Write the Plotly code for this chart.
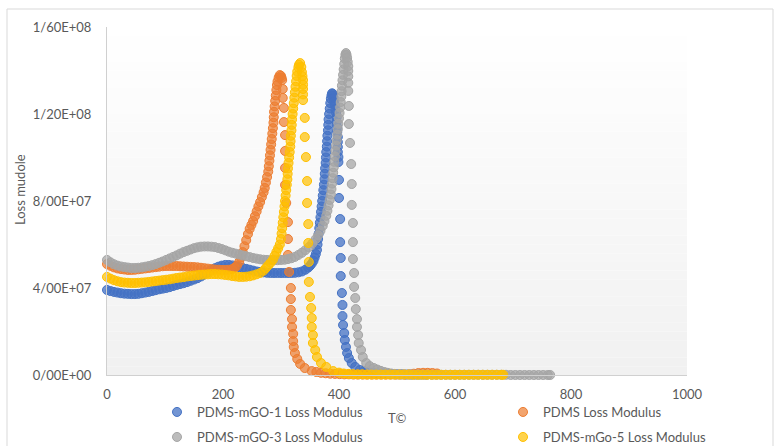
import plotly.graph_objects as go

# Loss modulus versus temperature, four PDMS samples.
# Each series: (temperature in °C, loss modulus in MPa)
PDMS_MGO1 = [
    (0, 39.1), (6, 38.6), (12, 38.2), (18, 37.9), (24, 37.6), (30, 37.4), (36, 37.3), (42, 37.2),
    (48, 37.2), (54, 37.3), (60, 37.6), (66, 37.9), (72, 38.2), (78, 38.6), (84, 39.0), (90, 39.4),
    (96, 39.7), (102, 40.0), (108, 40.4), (114, 40.9), (120, 41.4), (126, 41.8), (132, 42.2), (138, 42.7),
    (144, 43.3), (150, 43.9), (156, 44.5), (162, 45.3), (168, 46.2), (174, 47.2), (180, 48.2), (186, 49.1),
    (192, 49.8), (198, 50.3), (204, 50.6), (210, 50.6), (216, 50.4), (222, 50.0), (228, 49.6), (234, 49.2),
    (240, 48.8), (246, 48.4), (252, 48.0), (258, 47.6), (264, 47.4), (270, 47.2), (276, 47.0), (282, 46.9),
    (288, 46.9), (294, 46.9), (300, 46.9), (306, 46.9), (312, 46.9), (318, 46.9), (324, 47.0), (330, 47.2),
    (336, 47.6), (342, 48.4), (347, 49.4), (350, 50.2), (353, 51.2), (356, 52.5), (358, 54.0), (360, 55.6),
    (362, 57.5), (363, 60.0), (364, 62.5), (365, 65.0), (366, 67.5), (367, 70.0), (368, 72.5), (369, 75.0),
    (370, 77.5), (371, 80.0), (372, 82.5), (373, 85.0), (374, 87.5), (375, 90.0), (375.5, 92.5), (376, 95.0),
    (377, 97.5), (377.5, 100.0), (378, 102.5), (379, 105.0), (379.5, 107.5), (380, 110.0), (381, 112.5),
    (381.5, 115.0), (382, 117.5), (383, 120.0), (384, 122.5), (385, 125.0), (386, 127.0), (387, 128.5),
    (388, 129.5), (389, 129.3), (390, 128.5), (391, 127.4), (392, 125.8), (393, 124.1), (394, 122.3),
    (395, 120.5), (396, 118.4), (396, 116.3), (397, 114.0), (397, 111.7), (398, 109.4), (398, 107.1),
    (398, 104.8), (398, 102.5), (399, 100.2), (399, 97.9), (400, 89.7), (400, 81.4), (402, 71.7), (402, 61.1),
    (403, 53.8), (403, 45.5), (405, 37.7), (406, 32.2), (406, 27.1), (407, 23.0), (409, 19.3), (410, 16.1),
    (412, 12.9), (414, 10.1), (417, 7.8), (422, 5.5), (428, 3.7), (436, 2.3), (442, 1.7), (448, 1.3),
    (454, 1.1), (460, 0.9), (468, 0.7), (476, 0.6), (484, 0.5), (492, 0.4), (500, 0.3), (508, 0.3),
    (516, 0.2), (524, 0.2), (532, 0.2), (540, 0.2), (548, 0.2),
]

PDMS = [
    (0, 51.0), (6, 50.2), (12, 49.5), (18, 49.0), (24, 48.7), (30, 48.5), (36, 48.3), (42, 48.3),
    (48, 48.4), (54, 48.6), (60, 48.8), (66, 49.0), (72, 49.2), (78, 49.4), (84, 49.6), (90, 49.8),
    (96, 50.0), (102, 50.1), (108, 50.1), (114, 50.1), (120, 50.1), (126, 50.0), (132, 49.9), (138, 49.8),
    (144, 49.7), (150, 49.6), (156, 49.5), (162, 49.3), (168, 49.1), (174, 48.9), (180, 48.7), (186, 48.5),
    (192, 48.4), (198, 48.3), (204, 48.3), (210, 48.4), (216, 48.7), (220, 49.3), (224, 50.3), (228, 52.0),
    (231, 54.0), (234, 56.5), (237, 59.2), (240, 62.0), (243, 64.8), (246, 67.2), (249, 69.0), (252, 70.8),
    (255, 73.0), (258, 75.2), (261, 77.5), (264, 79.5), (267, 81.8), (270, 84.0), (272, 86.0), (274, 88.5),
    (276, 91.0), (278, 93.5), (279, 96.0), (280, 98.5), (281, 101.0), (282, 103.5), (283, 106.0),
    (284, 108.5), (285, 111.0), (286, 113.5), (287, 116.0), (287.5, 118.5), (288, 121.0), (289, 123.5),
    (290, 126.0), (291, 128.5), (292, 131.0), (293, 133.3), (294, 135.0), (296, 136.8), (298, 137.9),
    (300, 137.5), (301, 136.6), (302, 135.6), (303, 131.5), (303, 127.4), (305, 122.8), (305, 116.3),
    (307, 110.3), (307, 103.0), (307, 95.2), (307, 87.4), (309, 79.1), (312, 70.3), (312, 62.5), (312, 55.2),
    (314, 47.4), (317, 40.0), (317, 34.9), (317, 29.9), (319, 25.7), (319, 22.1), (321, 18.9), (321, 15.6),
    (322, 12.9), (324, 10.1), (328, 7.4), (333, 5.1), (341, 3.2), (353, 1.8), (361, 1.4), (369, 1.0),
    (377, 0.8), (385, 0.6), (393, 0.5), (401, 0.4), (409, 0.3), (417, 0.3), (425, 0.2), (433, 0.2),
    (441, 0.2), (449, 0.2), (457, 0.2), (465, 0.2), (473, 0.2), (481, 0.2), (489, 0.2), (497, 0.2),
    (505, 0.2), (513, 0.2), (521, 0.3), (529, 0.6), (537, 0.9), (545, 1.0), (553, 1.0), (561, 0.9),
    (569, 0.7),
]

PDMS_MGO3 = [
    (0, 52.9), (6, 51.8), (12, 50.9), (18, 50.3), (24, 49.9), (30, 49.6), (36, 49.4), (42, 49.2),
    (48, 49.2), (54, 49.3), (60, 49.5), (66, 49.8), (72, 50.1), (78, 50.5), (84, 51.0), (90, 51.6),
    (96, 52.2), (102, 52.9), (108, 53.6), (114, 54.3), (120, 55.0), (126, 55.8), (132, 56.5), (138, 57.1),
    (144, 57.7), (150, 58.3), (156, 58.7), (162, 59.0), (168, 59.1), (174, 59.1), (180, 59.0), (186, 58.8),
    (192, 58.4), (198, 57.9), (204, 57.3), (210, 56.7), (216, 56.2), (222, 55.8), (228, 55.4), (234, 55.0),
    (240, 54.6), (246, 54.2), (252, 53.8), (258, 53.5), (264, 53.2), (270, 53.0), (276, 52.9), (282, 52.8),
    (288, 52.8), (294, 52.8), (300, 52.9), (306, 53.0), (312, 53.3), (318, 53.7), (324, 54.3), (330, 55.2),
    (336, 56.2), (342, 57.4), (348, 58.8), (354, 60.5), (360, 62.5), (364, 64.2), (368, 66.3), (372, 68.6),
    (375, 70.8), (378, 73.2), (380, 75.5), (382, 78.0), (384, 80.5), (386, 83.0), (387, 85.5), (388, 88.0),
    (389, 90.5), (390, 93.0), (391, 95.5), (392, 98.0), (393, 100.5), (394, 103.0), (395, 105.5),
    (396, 108.0), (397, 110.5), (398, 113.0), (399, 115.5), (400, 118.0), (401, 120.5), (402, 123.0),
    (403, 125.5), (404, 128.0), (404.5, 130.5), (405, 133.0), (406, 135.5), (407, 138.0), (408, 140.5),
    (409, 143.0), (410, 145.5), (411, 147.3), (412, 148.0), (413, 147.2), (414, 145.8), (415, 144.0),
    (416, 142.0), (416, 139.8), (416, 137.3), (416, 134.3), (416, 130.6), (417, 123.7), (417, 115.4),
    (419, 106.7), (421, 97.0), (422, 87.8), (422, 78.2), (424, 69.9), (424, 61.1), (424, 53.3), (426, 46.9),
    (426, 40.5), (428, 35.4), (429, 30.3), (431, 25.7), (431, 22.1), (433, 18.4), (434, 14.7), (438, 11.5),
    (441, 8.3), (447, 5.5), (453, 4.1), (460, 3.2), (466, 2.5), (472, 1.9), (478, 1.4), (484, 1.0),
    (490, 0.7), (496, 0.5), (504, 0.4), (512, 0.3), (520, 0.3), (528, 0.2), (536, 0.2), (544, 0.2),
    (552, 0.1), (560, 0.1), (568, 0.1), (576, 0.1), (584, 0.1), (592, 0.1), (600, 0.1), (608, 0.1),
    (616, 0.1), (624, 0.1), (632, 0.1), (640, 0.1), (648, 0.1), (656, 0.1), (664, 0.1), (672, 0.1),
    (680, 0.1), (688, 0.1), (696, 0.0), (704, 0.0), (712, 0.0), (720, 0.0), (728, 0.0), (736, 0.0),
    (744, 0.0), (752, 0.0), (760, 0.0), (764, 0.0),
]

PDMS_MGO5 = [
    (0, 45.1), (6, 44.3), (12, 43.6), (18, 43.1), (24, 42.7), (30, 42.5), (36, 42.4), (42, 42.3),
    (48, 42.3), (54, 42.4), (60, 42.5), (66, 42.6), (72, 42.8), (78, 43.0), (84, 43.2), (90, 43.4),
    (96, 43.6), (102, 43.8), (108, 44.0), (114, 44.3), (120, 44.6), (126, 44.8), (132, 45.0), (138, 45.3),
    (144, 45.5), (150, 45.7), (156, 45.9), (162, 46.1), (168, 46.2), (174, 46.3), (180, 46.4), (186, 46.4),
    (192, 46.3), (198, 46.2), (204, 46.0), (210, 45.8), (216, 45.5), (222, 45.3), (228, 45.1), (234, 45.1),
    (240, 45.2), (246, 45.4), (252, 45.8), (258, 46.3), (264, 46.9), (270, 48.0), (274, 49.2), (278, 50.4),
    (282, 51.6), (286, 53.0), (289, 54.8), (292, 56.5), (295, 58.2), (298, 60.0), (300, 62.5), (301, 65.0),
    (302, 67.5), (303, 70.0), (304, 72.5), (305, 75.0), (306, 77.5), (307, 80.0), (308, 82.5), (309, 85.0),
    (310, 87.5), (311, 90.0), (311.5, 92.5), (312, 95.0), (313, 97.5), (314, 100.0), (315, 102.5),
    (316, 105.0), (316.5, 107.5), (317, 110.0), (318, 112.5), (318.5, 115.0), (319, 117.5), (320, 120.0),
    (321, 122.5), (322, 125.0), (323, 127.5), (324, 130.0), (325, 132.5), (326, 135.0), (327, 137.5),
    (328, 139.5), (330, 141.5), (331, 142.6), (333, 143.4), (335, 141.6), (336, 139.3), (337, 137.4),
    (338, 135.6), (338, 133.5), (338, 131.5), (338, 129.0), (338, 126.4), (341, 118.2), (341, 109.4),
    (343, 100.2), (345, 89.2), (345, 79.1), (347, 69.4), (347, 60.7), (348, 52.0), (348, 42.8), (350, 35.9),
    (352, 30.8), (353, 26.2), (353, 22.1), (355, 18.4), (355, 14.7), (359, 11.5), (362, 8.3), (369, 5.5),
    (378, 3.7), (390, 1.8), (400, 1.1), (408, 0.7), (416, 0.5), (424, 0.4), (432, 0.3), (440, 0.3),
    (448, 0.2), (456, 0.2), (464, 0.2), (472, 0.2), (480, 0.2), (488, 0.2), (496, 0.2), (504, 0.2),
    (512, 0.2), (520, 0.2), (528, 0.1), (536, 0.1), (544, 0.1), (552, 0.1), (560, 0.1), (568, 0.1),
    (576, 0.1), (584, 0.1), (592, 0.1), (600, 0.1), (608, 0.1), (616, 0.1), (624, 0.1), (632, 0.1),
    (640, 0.1), (648, 0.1), (656, 0.1), (664, 0.1), (672, 0.1), (680, 0.1), (683, 0.1),
]

SERIES_NAMES = [
    "PDMS-mGO-1 Loss Modulus",
    "PDMS Loss Modulus",
    "PDMS-mGO-3 Loss Modulus",
    "PDMS-mGo-5 Loss Modulus",
]
SERIES_DATA = [PDMS_MGO1, PDMS, PDMS_MGO3, PDMS_MGO5]
SERIES_COLORS = ["#4472C4", "#ED7D31", "#A5A5A5", "#FFC000"]
SERIES_FILLS = ["rgba(68,114,196,0.75)", "rgba(237,125,49,0.7)",
                "rgba(165,165,165,0.75)", "rgba(255,192,0,0.7)"]

Y_TICK_VALUES = [0, 4e7, 8e7, 1.2e8, 1.6e8]
Y_TICK_LABELS = ["0/00E+00", "4/00E+07", "8/00E+07", "1/20E+08", "1/60E+08"]
X_TICK_VALUES = [0, 200, 400, 600, 800, 1000]

PA_PER_MPA = 1e6

W, H = 774, 446
PLOT_L, PLOT_R, PLOT_T, PLOT_B = 107, 687, 27, 375
PW, PH = PLOT_R - PLOT_L, PLOT_B - PLOT_T


def px_to_paper_x(px):
    return (px - PLOT_L) / PW


def px_to_paper_y(py):
    return (PLOT_B - py) / PH


TEXT_COLOR = "#595959"
FONT = "Lato"

# Legend entry positions (left edge of the entry, vertical centre), one legend box per entry
LEGEND_SLOTS = [(157, 412), (503, 412), (157, 437), (503, 437)]
LEGEND_IDS = ["legend", "legend2", "legend3", "legend4"]

fig = go.Figure()

for name, data, color, fill, leg in zip(SERIES_NAMES, SERIES_DATA, SERIES_COLORS,
                                        SERIES_FILLS, LEGEND_IDS):
    temps = [t for t, _ in data]
    modulus = [v * PA_PER_MPA for _, v in data]
    fig.add_trace(go.Scatter(
        x=temps, y=modulus, mode="markers", name=name, legend=leg,
        cliponaxis=False,
        marker=dict(symbol="circle", size=9, color=fill,
                    line=dict(color=color, width=1)),
    ))

# Soft vertical gradient behind the plot area (white at top, light grey at bottom)
shapes = []
N_BANDS = 40
for i in range(N_BANDS):
    frac = i / N_BANDS
    c = int(round(241 + (255 - 241) * frac))
    shapes.append(dict(
        type="rect", xref="x domain", yref="y domain",
        x0=0, x1=1, y0=i / N_BANDS, y1=(i + 1) / N_BANDS,
        fillcolor=f"rgb({c},{c},{c})", line=dict(width=0), layer="below",
    ))

# Outer chart frame
shapes.append(dict(
    type="rect", xref="paper", yref="paper",
    x0=px_to_paper_x(7), x1=px_to_paper_x(773),
    y0=px_to_paper_y(448), y1=px_to_paper_y(9),
    line=dict(color="#d9d9d9", width=1), fillcolor="rgba(0,0,0,0)", layer="below",
))

annotations = [
    dict(text="Loss mudole", xref="paper", yref="paper",
         x=px_to_paper_x(20), y=px_to_paper_y(190), textangle=-90,
         showarrow=False, font=dict(family=FONT, size=13, color=TEXT_COLOR),
         xanchor="center", yanchor="middle"),
    dict(text="T©", xref="paper", yref="paper",
         x=px_to_paper_x(397), y=px_to_paper_y(418),
         showarrow=False, font=dict(family=FONT, size=13, color=TEXT_COLOR),
         xanchor="center", yanchor="middle"),
]

legends = {}
for leg_id, (lx, ly) in zip(LEGEND_IDS, LEGEND_SLOTS):
    legends[leg_id] = dict(
        orientation="h", xanchor="left", yanchor="middle",
        x=px_to_paper_x(lx), y=px_to_paper_y(ly),
        bgcolor="rgba(0,0,0,0)", borderwidth=0,
        font=dict(family=FONT, size=13, color=TEXT_COLOR),
        itemclick=False, itemdoubleclick=False,
    )

fig.update_layout(
    width=W, height=H,
    margin=dict(l=PLOT_L, r=W - PLOT_R, t=PLOT_T, b=H - PLOT_B, pad=0, autoexpand=False),
    paper_bgcolor="white", plot_bgcolor="rgba(0,0,0,0)",
    font=dict(family=FONT, size=13, color=TEXT_COLOR),
    showlegend=True,
    shapes=shapes,
    annotations=annotations,
    xaxis=dict(
        range=[0, 1000], tickvals=X_TICK_VALUES, showgrid=False, zeroline=False,
        showline=True, linecolor="#d0d0d0", linewidth=1, ticks="",
        ticklabelstandoff=7, tickfont=dict(family=FONT, size=13, color=TEXT_COLOR),
        fixedrange=True,
    ),
    yaxis=dict(
        range=[0, 1.6e8], tickvals=Y_TICK_VALUES, ticktext=Y_TICK_LABELS,
        showgrid=False, zeroline=False, showline=True, linecolor="#d0d0d0",
        linewidth=1, ticks="", ticklabelstandoff=12,
        tickfont=dict(family=FONT, size=13, color=TEXT_COLOR), fixedrange=True,
    ),
    **legends,
)

fig.write_html("out.html")
